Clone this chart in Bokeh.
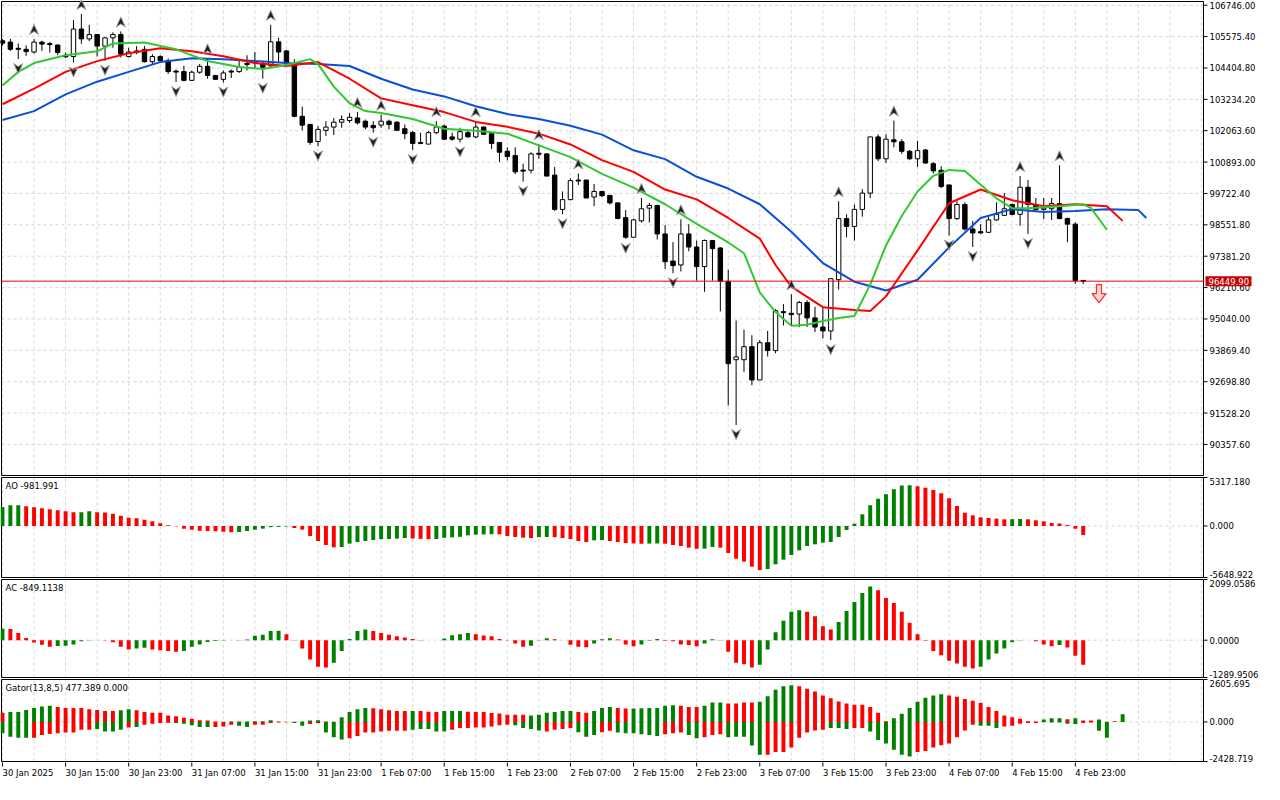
import numpy as np
from bokeh.plotting import figure
from bokeh.models import Range1d
from bokeh.layouts import column
from bokeh.embed import file_html
from bokeh.resources import INLINE
from bokeh.core.properties import value

# ---------------- data (H1 candles from 30 Jan 2025 07:00) ----------------
open_ = [105420,105370,105130,105100,105000,105370,105300,105260,104880,104830,
         105856,105490,105650,105220,105530,105650,104830,105040,105100,104637,
         104832,104674,104280,104270,103943,104247,104467,104125,103980,104260,
         104270,104550,104610,104550,104490,105380,105040,104550,102600,102300,
         101662,102077,102199,102382,102443,102540,102418,102260,102272,102418,
         102382,102138,101992,101626,101565,101992,102235,101833,101748,101992,
         101833,102199,101955,101626,101297,101138,100590,100590,101199,101199,
         100407,99127,99493,100200,100224,99590,99797,99651,99371,98822,
         98090,98700,99175,99273,98212,97200,97054,98212,97724,96993,
         97968,97688,96444,93519,93519,94006,92763,94153,93860,95286,
         95250,95225,95652,95079,94738,94592,96506,98785,98493,99127,
         99736,101833,101016,101723,101650,101296,101016,101345,100833,100589,
         100041,98785,99310,98395,98298,98273,98736,98907,99310,98943,
         99955,99310,99127,99151,99346,98785,98578,96469]
high = [105480,105490,105320,105250,105490,105420,105380,105280,104980,106198,
        106417,106015,105660,105550,105735,105770,105160,105220,105220,104918,
        104880,104760,104345,104490,104310,104552,104760,104150,104310,104345,
        104735,104880,105000,104674,106015,105527,105076,104735,102967,102300,
        102236,102418,102540,102638,102723,102760,102480,102418,102662,102480,
        102418,102296,102053,101992,102053,102418,102296,101992,102174,102053,
        102418,102235,101955,101626,101443,101443,100834,101260,101565,101224,
        100712,99798,100285,100470,100224,100078,99797,99651,99395,99103,
        98780,99553,99370,99310,98541,97907,98760,98577,97968,98004,
        97968,97724,96871,94982,94640,94433,94250,94592,95408,95591,
        95957,95713,95738,95494,95469,96542,99431,98943,99310,99882,
        101833,101930,101930,102442,101747,101345,101686,101382,100894,100735,
        100041,99431,99395,98700,98578,98858,99395,99736,99346,100370,
        100223,99553,99553,99553,100772,98822,98639,96480]
low = [105240,105040,104735,104860,104950,105040,104980,104880,104780,104613,
       105308,105405,104832,104674,105160,104796,104796,104920,104613,104552,
       104613,104186,103880,103906,103930,104186,104003,103980,103860,104030,
       104220,104310,104370,104003,104430,104613,104515,102565,102077,101540,
       101480,101870,101906,102174,102357,102296,102113,101990,102174,102113,
       102053,101748,101346,101560,101565,101931,101711,101687,101626,101809,
       101785,101906,101382,100894,100956,100444,100163,100468,101016,100370,
       99066,98944,99468,100041,99554,99249,99590,99310,98761,98030,
       98070,98639,98639,98004,96908,96749,96810,97566,96469,96054,
       96469,95323,91812,91081,93056,92568,92763,93641,93763,94799,
       94799,94738,94738,94555,94311,94250,96140,98090,97968,98858,
       99553,100931,100857,101442,101199,100979,100711,100833,100467,99919,
       98151,98736,98334,97724,98212,98249,98700,98883,98907,98517,
       98212,99066,98761,98736,98761,97907,96347,96347]
close = [105330,105100,105110,105015,105370,105295,105290,104980,104820,105856,
         105490,105650,105220,105527,105650,104918,105000,104980,104637,104832,
         104674,104270,104260,103943,104247,104467,104125,103980,104220,104280,
         104430,104560,104620,104430,105380,105000,104550,102600,102272,101627,
         102113,102199,102382,102479,102565,102357,102199,102174,102418,102296,
         102077,101955,101589,101589,101992,102199,101748,101748,102028,101833,
         102199,101931,101589,101260,101102,100529,100560,101199,101210,100370,
         99127,99493,100200,100210,99554,99797,99639,99371,98786,98090,
         98736,99151,99273,98212,97176,97030,98212,97724,96993,97968,
         97664,96444,93373,93622,94006,92763,94153,93860,95347,95300,
         95201,95652,95079,94738,94592,96542,98785,98493,99127,99736,
         101833,101016,101747,101650,101296,101016,101320,100857,100565,99980,
         98785,99310,98395,98249,98249,98736,98943,99151,98943,99955,
         99310,99127,99175,99346,98785,98578,96469,96449.90]

# Alligator (13,8,5 shifted 8,5,3)
jaw_idx = [0,4,8,12,16,20,24,28,32,36,40,44,48,52,56,60,64,68,72,76,80,84,88,92,96,
           100,104,108,112,116,120,124,128,132,136,140,144,145]
jaw_val = [102466,102795,103417,103893,104259,104624,104771,104734,104661,104588,104551,
           104478,104003,103600,103344,102978,102686,102503,102247,101918,101332,101003,
           100345,99906,99320,98296,97126,96431,96101,96504,97711,98808,99137,99028,
           99064,99137,99101,98808]
teeth_idx = [0,4,8,12,16,20,24,28,32,36,40,44,48,52,56,60,64,68,72,76,80,84,88,92,96,98,
             100,104,108,110,112,116,120,124,128,132,136,140,142]
teeth_val = [103051,103637,104259,104661,104954,105137,105027,104844,104588,104478,104624,
             104003,103271,103015,102759,102393,102210,101954,101552,100966,100528,99869,
             99503,98808,98040,97052,96248,95480,95370,95333,95882,97601,99357,99869,99467,
             99247,99320,99247,98699]
lips_idx = [0,2,4,8,12,14,18,22,26,30,33,36,39,40,42,44,46,48,52,56,60,64,68,72,76,80,84,
            88,92,94,96,98,100,102,104,106,108,110,112,114,116,118,120,122,124,126,128,130,
            134,137,138,140]
lips_val = [103747,104259,104588,104881,105027,105319,105356,105100,104661,104442,104368,
            104515,104734,104551,103710,103088,102795,102722,102503,102137,102064,101954,
            101515,101076,100454,99942,99320,98589,97894,97491,96028,95297,94784,94821,
            94967,95077,95150,96321,97784,98881,99796,100381,100601,100564,100052,99540,
            99174,99174,99247,99320,99174,98369]

fractal_up = [4,10,15,26,34,45,48,55,60,68,73,81,86,100,106,113,129,134]
fractal_dn = [2,9,13,22,28,33,40,47,52,58,66,71,79,85,93,105,120,123,130]

ao = [2084,2267,2285,2157,2047,1938,1828,1718,1609,1499,
      1517,1609,1517,1481,1353,1133,914,841,695,512,
      292,73,-37,-292,-402,-512,-548,-585,-640,-676,
      -658,-548,-402,-292,-128,-101,-55,-219,-402,-1097,
      -1645,-2084,-2340,-2303,-1938,-1755,-1645,-1536,-1444,-1426,
      -1389,-1316,-1371,-1408,-1444,-1426,-1298,-1243,-1188,-1024,
      -951,-923,-905,-914,-1097,-1206,-1280,-1316,-1225,-1206,
      -1225,-1316,-1426,-1645,-1755,-1572,-1536,-1645,-1755,-1865,
      -1919,-1947,-1929,-1919,-1947,-2084,-2194,-2376,-2504,-2486,
      -2303,-2376,-2961,-3583,-3912,-4460,-4826,-4716,-4204,-3693,
      -3181,-2669,-2194,-2011,-1828,-1755,-1206,-439,256,1280,
      2267,2998,3473,4022,4442,4479,4351,4204,3948,3583,
      3034,2194,1462,1170,951,877,804,731,749,768,
      731,622,512,329,274,110,-300,-981.991]
ac = [400,385,253,80,-80,-160,-230,-200,-190,-150,
      -35,-10,-4,-8,-70,-230,-320,-290,-265,-320,
      -345,-370,-400,-370,-230,-150,-60,-25,-10,-5,
      10,25,150,185,320,325,207,-10,-290,-670,
      -920,-945,-780,-370,45,320,370,320,250,185,
      140,90,45,10,0,-5,60,170,210,250,
      205,160,140,45,-10,-115,-230,-195,-10,70,
      35,0,-160,-230,-240,-115,35,70,25,-150,
      -207,-150,-23,45,-20,-35,-150,-170,-207,-115,
      35,-10,-400,-780,-830,-945,-850,-320,275,670,
      980,1035,980,830,485,370,630,1010,1320,1630,
      1860,1725,1460,1290,980,600,210,-23,-370,-520,
      -715,-805,-920,-980,-920,-670,-460,-290,-70,10,
      -5,-35,-150,-207,-170,-250,-540,-849.1138]
gator_up = [567,609,609,735,861,945,987,924,861,861,
            861,777,735,672,672,714,777,714,609,567,
            567,399,357,252,189,105,84,21,15,30,
            20,25,42,50,105,30,10,15,30,84,
            105,20,10,294,609,777,861,840,777,714,
            672,672,672,672,630,609,672,672,672,630,
            609,609,546,525,441,441,441,399,441,567,
            609,672,672,609,567,672,861,924,861,819,
            819,840,861,861,987,1029,987,924,924,987,
            1197,1197,1134,1134,1197,1197,1239,1575,1974,2184,
            2247,2184,2037,1869,1617,1449,1260,1134,1050,1050,
            924,567,42,231,504,861,1239,1491,1617,1701,
            1617,1554,1407,1302,1176,924,672,399,294,189,
            42,21,147,231,231,160,220,84,84,147,
            10,40,477.389]
gator_up_dir = ("RGGGGGGRRR" "RRRRRGGRRR" "RRRRRRRRGG" "RGGGGRRGGG" "GRRGGGGRRR"
                "RRGRRRGGGR" "RRRRRRRGGG" "GGGRRGGGRR" "GGGGGGRRRG" "GGRRRRGGGG"
                "GRRRRRRRRR" "RRRGGGGGGG" "RRRRRRRRRR" "RRGGGRGRRG" "RRG")
gator_dn = [-693,-903,-966,-966,-966,-798,-735,-693,-651,-651,
            -483,-483,-441,-588,-588,-483,-336,-315,-168,-105,
            -63,-42,-63,-105,-210,-315,-315,-315,-273,-168,
            -231,-315,-168,-168,-63,-30,-15,-63,-231,-126,
            -63,-651,-945,-1071,-1008,-861,-651,-651,-588,-546,
            -546,-546,-483,-441,-441,-588,-588,-483,-378,-378,
            -336,-336,-273,-210,-168,-210,-378,-441,-525,-588,
            -483,-441,-378,-630,-903,-798,-630,-546,-651,-693,
            -693,-756,-798,-861,-756,-693,-651,-798,-1008,-945,
            -798,-756,-945,-903,-903,-1449,-2016,-2016,-1848,-1848,
            -1575,-966,-651,-525,-483,-378,-378,-441,-378,-378,
            -588,-1113,-1323,-1701,-2016,-2121,-1848,-1785,-1575,-1428,
            -1323,-945,-525,-168,-231,-231,-378,-273,-231,-105,
            -63,-63,-20,-30,-40,-105,-120,-60,-30,-545,
            -965]
gator_dn_dir = ("GGGGRRRRRR" "RRGGGGRGRR" "RRGGGGGRRR" "GGRRRRRGGR" "RGGGRRRRRR"
                "RRGGGGGRRR" "RRRRRGGGGR" "RRRGGGRRGG" "GGGGRRRGGR" "RRGGGGGRRR"
                "RRRRRGGGRR" "GGGGGGRRRR" "RRRRGGGRRR" "RRRGGGGRRG" "G")

price_ticks = [106746.00,105575.40,104404.80,103234.20,102063.60,100893.00,99722.40,
               98551.80,97381.20,96210.60,95040.00,93869.40,92698.80,91528.20,90357.60]
ao_range = (-5648.922, 5317.180)
ac_range = (-1289.9506, 2099.0586)
gator_range = (-2428.719, 2605.695)
time_labels = ["30 Jan 2025","30 Jan 15:00","30 Jan 23:00","31 Jan 07:00","31 Jan 15:00",
               "31 Jan 23:00","1 Feb 07:00","1 Feb 15:00","1 Feb 23:00","2 Feb 07:00",
               "2 Feb 15:00","2 Feb 23:00","3 Feb 07:00","3 Feb 15:00","3 Feb 23:00",
               "4 Feb 07:00","4 Feb 15:00","4 Feb 23:00"]
time_label_idx = [0,8,16,24,32,40,48,56,64,72,80,88,96,104,112,120,128,136]
last_price = 96449.90
signal_bar = 139
signal_price = 96320

assert len(open_) == len(high) == len(low) == len(close) == len(ao) == len(ac) == 138
assert len(gator_up) == len(gator_up_dir) == 143 and len(gator_dn) == len(gator_dn_dir) == 141

# ---------------- layout / style ----------------
FONT = "DejaVu Sans"
FS = "8.5px"
TOTAL_W = 1264
PLOT_W = 1202                  # width of the chart area (without price scale)
X0, X1 = -0.125, 152.25        # bar-index range of the chart area
XPX = PLOT_W / (X1 - X0)       # pixels per bar
XS = X0 - 1 / XPX              # 1px padding on the left
XE = X1 + (TOTAL_W - 1 - PLOT_W) / XPX
GREEN, RED = "#008000", "#ff0000"
GRID = "#d6d6d6"
MAIN_H = 474
M0, M1 = 89199.0, 106885.0

xr = Range1d(XS, XE)
vgrid = list(range(0, 153, 4))


def panel(ph, y0, y1, hticks, label_items):
    """Chart area [X0,X1]x[y0,y1] of ph pixels high, with a price scale drawn to the right."""
    ppy = (y1 - y0) / ph
    p = figure(frame_width=TOTAL_W, frame_height=ph + 2, x_range=xr,
               y_range=Range1d(y0 - ppy, y1 + ppy), x_axis_location=None,
               y_axis_location=None, toolbar_location=None, output_backend="svg",
               min_border=0, outline_line_color=None, background_fill_color="white",
               border_fill_color="white")
    p.xgrid.visible = False
    p.ygrid.visible = False
    # dashed grid
    p.segment(x0=vgrid, y0=[y0] * len(vgrid), x1=vgrid, y1=[y1] * len(vgrid),
              line_color=GRID, line_dash="3 3", line_width=1)
    p.segment(x0=[X0] * len(hticks), y0=hticks, x1=[X1] * len(hticks), y1=hticks,
              line_color=GRID, line_dash="3 3", line_width=1)
    # frame
    p.segment(x0=[X0, X0, X0, X1], y0=[y1, y0, y0, y0], x1=[X1, X1, X0, X1], y1=[y1, y0, y1, y1],
              line_color="black", line_width=1)
    # price scale ticks and labels
    ty = [t for t, _, _ in label_items]
    p.segment(x0=[X1] * len(ty), y0=ty, x1=[X1 + 4 / XPX] * len(ty), y1=ty,
              line_color="black", line_width=1)
    for base in ("middle", "top", "bottom"):
        items = [(t, s) for t, s, b in label_items if b == base]
        if items:
            p.text(x=[X1 + 6 / XPX] * len(items), y=[t for t, _ in items],
                   text=[s for _, s in items], text_align="left", text_baseline=base,
                   text_font=value(FONT), text_font_size=value(FS), text_color="black")
    return p, ppy


# ---------------- main price panel ----------------
pm, PPY = panel(MAIN_H, M0, M1, price_ticks,
                [(t, f"{t:.2f}", "middle") for t in price_ticks])

idx = np.arange(len(open_))
o = np.array(open_, float); c = np.array(close, float)
h = np.array(high, float); l = np.array(low, float)
btop = np.maximum(o, c); bbot = np.minimum(o, c)
small = (btop - bbot) < PPY
mid = (btop + bbot) / 2
btop = np.where(small, mid + PPY / 2, btop)
bbot = np.where(small, mid - PPY / 2, bbot)
fills = np.where(c > o, "white", "black")
fills = np.where(small, "black", fills)

pm.segment(idx, h, idx, l, line_color="black", line_width=1)
pm.vbar(x=idx, top=btop, bottom=bbot, width=0.56, fill_color=list(fills),
        line_color="black", line_width=1)

pm.line(jaw_idx, jaw_val, line_color="#0a4fd8", line_width=2)
pm.line(teeth_idx, teeth_val, line_color="#ff0000", line_width=2)
pm.line(lips_idx, lips_val, line_color="#32c832", line_width=2)


def dart(cx, cy, up):
    s = 1 if up else -1
    pts = [(0, 5.5), (-4.5, -4.5), (0, -1.5), (4.5, -4.5)]
    return ([cx + px / XPX for px, _ in pts], [cy + s * py * PPY for _, py in pts])


xs, ys = [], []
for i in fractal_up:
    a, b = dart(i, high[i] + 9 * PPY, True); xs.append(a); ys.append(b)
for i in fractal_dn:
    a, b = dart(i, low[i] - 9 * PPY, False); xs.append(a); ys.append(b)
pm.patches(xs, ys, fill_color="#1e1e1e", line_color="#a0a0a0", line_width=1)

# current price line and tag
pm.segment(x0=[X0], y0=[last_price], x1=[X1], y1=[last_price], line_color="#ee0000", line_width=1)
pm.quad(left=[X1 + 2 / XPX], right=[X1 + 48 / XPX], bottom=[last_price - 5 * PPY],
        top=[last_price + 5 * PPY], fill_color="#c80000", line_color=None)
pm.text(x=[X1 + 5 / XPX], y=[last_price], text=[f"{last_price:.2f}"], text_align="left",
        text_baseline="middle", text_font=value(FONT), text_font_size=value(FS),
        text_color="white")

# sell signal arrow
shape = [(-2.5, 0), (2.5, 0), (2.5, -9), (7, -9), (0, -18), (-7, -9), (-2.5, -9)]
pm.patch([signal_bar + px / XPX for px, _ in shape],
         [signal_price + py * PPY for _, py in shape],
         fill_color="#ffd6d6", line_color="#ff2a2a", line_width=1.2)


def sub_panel(ph, rng, nd, title):
    y0, y1 = rng
    items = [(y1, f"{y1:.{nd}f}", "top"), (0.0, f"{0:.{nd}f}", "middle"),
             (y0, f"{y0:.{nd}f}", "bottom")]
    p, ppy = panel(ph, y0, y1, [0.0], items)
    p.text(x=[X0 + 4 / XPX], y=[y1 - 8.5 * ppy], text=[title], text_align="left",
           text_baseline="middle", text_font=value(FONT), text_font_size=value(FS),
           text_color="black")
    return p


def cols(dirs):
    return [GREEN if d == "G" else RED for d in dirs]


def dirs_from(vals):
    out = ["G"]
    for a, b in zip(vals[:-1], vals[1:]):
        out.append("G" if b > a else "R")
    return out


pa = sub_panel(100, ao_range, 3, f"AO {ao[-1]:.3f}")
pa.vbar(x=idx, top=ao, bottom=0, width=0.5, fill_color=cols(dirs_from(ao)), line_color=None)

pc = sub_panel(98, ac_range, 4, f"AC {ac[-1]:.4f}")
pc.vbar(x=idx, top=ac, bottom=0, width=0.5, fill_color=cols(dirs_from(ac)), line_color=None)

pg = sub_panel(82, gator_range, 3, f"Gator(13,8,5) {gator_up[-1]:.3f} 0.000")
pg.vbar(x=np.arange(len(gator_up)), top=gator_up, bottom=0, width=0.5,
        fill_color=cols(gator_up_dir), line_color=None)
pg.vbar(x=np.arange(len(gator_dn)), top=0, bottom=gator_dn, width=0.5,
        fill_color=cols(gator_dn_dir), line_color=None)

# time scale strip
SH = 21
ps = figure(frame_width=TOTAL_W, frame_height=SH, x_range=xr, y_range=Range1d(0, SH),
            x_axis_location=None, y_axis_location=None, toolbar_location=None,
            output_backend="svg", min_border=0, outline_line_color=None,
            background_fill_color="white", border_fill_color="white")
ps.xgrid.visible = False
ps.ygrid.visible = False
n = len(time_label_idx)
ps.segment(x0=time_label_idx, y0=[SH + 1] * n, x1=time_label_idx, y1=[SH - 4] * n,
           line_color="black", line_width=1)
ps.text(x=time_label_idx, y=[SH - 10] * n, text=time_labels, text_align="left",
        text_baseline="middle", text_font=value(FONT), text_font_size=value(FS),
        text_color="black")

layout = column(pm, pa, pc, pg, ps, spacing=0)
open("out.html", "w").write(file_html(layout, INLINE, title="BTCUSD H1"))
